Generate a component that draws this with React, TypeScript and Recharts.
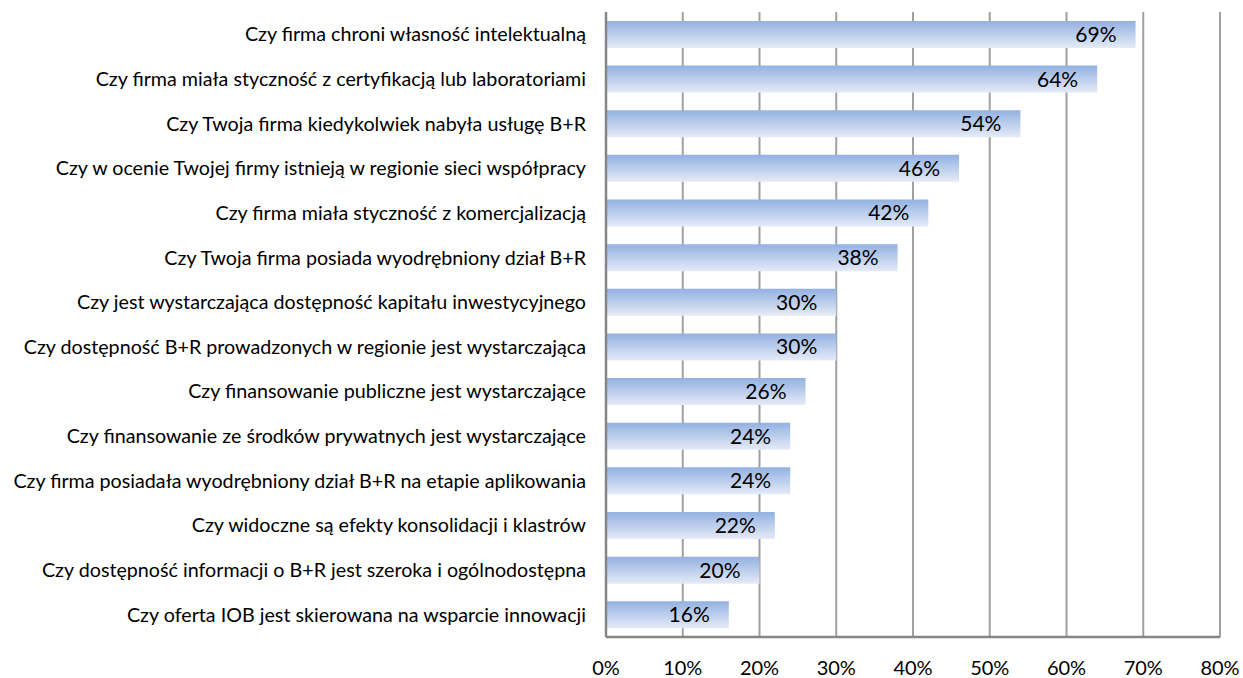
import React from 'react';
import { BarChart, Bar, XAxis, YAxis, CartesianGrid, LabelList } from 'recharts';

const questions = [
  'Czy firma chroni własność intelektualną',
  'Czy firma miała styczność z certyfikacją lub laboratoriami',
  'Czy Twoja firma kiedykolwiek nabyła usługę B+R',
  'Czy w ocenie Twojej firmy istnieją w regionie sieci współpracy',
  'Czy firma miała styczność z komercjalizacją',
  'Czy Twoja firma posiada wyodrębniony dział B+R',
  'Czy jest wystarczająca dostępność kapitału inwestycyjnego',
  'Czy dostępność B+R prowadzonych w regionie jest wystarczająca',
  'Czy finansowanie publiczne jest wystarczające',
  'Czy finansowanie ze środków prywatnych jest wystarczające',
  'Czy firma posiadała wyodrębniony dział B+R na etapie aplikowania',
  'Czy widoczne są efekty konsolidacji i klastrów',
  'Czy dostępność informacji o B+R jest szeroka i ogólnodostępna',
  'Czy oferta IOB jest skierowana na wsparcie innowacji',
];

const yesShare = [69, 64, 54, 46, 42, 38, 30, 30, 26, 24, 24, 22, 20, 16];

const xTicks = [0, 10, 20, 30, 40, 50, 60, 70, 80];

const data = questions.map((q, i) => ({ question: q, value: yesShare[i] }));

const FONT = 'Lato, "Open Sans", sans-serif';

export default function App() {
  return (
    <div style={{ position: 'absolute', left: 0, top: 0, width: 1243, height: 678, background: '#fff' }}>
      <BarChart
        width={1243}
        height={678}
        data={data}
        layout="vertical"
        margin={{ top: 12, right: 23, bottom: 0, left: 0 }}
        barCategoryGap="20%"
      >
        <defs>
          <linearGradient id="barFill" x1="0" y1="0" x2="0" y2="1">
            <stop offset="0%" stopColor="#93b1e1" />
            <stop offset="100%" stopColor="#e5ebf7" />
          </linearGradient>
        </defs>
        <CartesianGrid horizontal={false} stroke="#a0a0a0" strokeWidth={2} />
        <XAxis
          type="number"
          domain={[0, 80]}
          ticks={xTicks}
          tickFormatter={(v) => `${v}%`}
          axisLine={{ stroke: '#868686', strokeWidth: 2.5 }}
          tickLine={false}
          tickMargin={18}
          height={41}
          tick={{ fill: '#000', fontSize: 20, fontFamily: FONT }}
        />
        <YAxis
          type="category"
          dataKey="question"
          width={606}
          axisLine={{ stroke: '#868686', strokeWidth: 2.5 }}
          tickLine={false}
          tickMargin={14}
          interval={0}
          tick={{ fill: '#000', fontSize: 19.7, fontFamily: FONT }}
        />
        <Bar dataKey="value" fill="url(#barFill)" isAnimationActive={false}>
          <LabelList
            dataKey="value"
            position="insideRight"
            offset={19}
            formatter={(v: any) => `${v}%`}
            style={{ fill: '#000', fontSize: 21, fontFamily: FONT }}
          />
        </Bar>
      </BarChart>
    </div>
  );
}
